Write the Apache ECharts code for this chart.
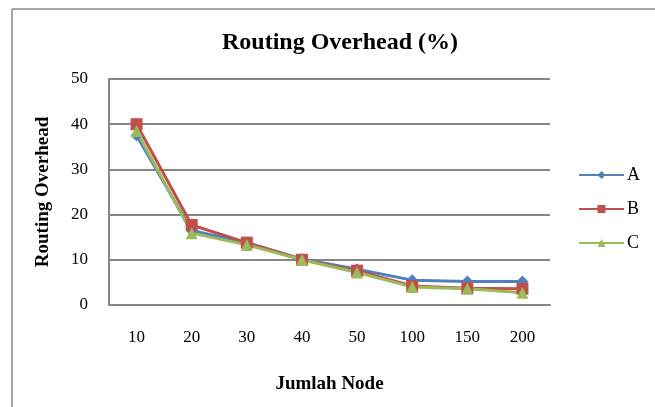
<!DOCTYPE html>
<html>
<head>
<meta charset="utf-8">
<script src="https://cdn.jsdelivr.net/npm/echarts@6/dist/echarts.min.js"></script>
<style>
html, body { margin: 0; padding: 0; background: #fff; }
#chart { width: 655px; height: 407px; }
</style>
</head>
<body>
<div id="chart"></div>
<script>
// data
var nodes = ['10', '20', '30', '40', '50', '100', '150', '200'];
var seriesA = [37.5, 16.5, 13.8, 10.2, 7.9, 5.5, 5.2, 5.2];
var seriesB = [40, 17.7, 13.8, 10, 7.6, 4.2, 3.7, 3.6];
var seriesC = [38.5, 15.9, 13.3, 10, 7.2, 4.0, 3.6, 2.7];
var yTicks = [0, 10, 20, 30, 40, 50];

var serif = '"Liberation Serif", "DejaVu Serif", serif';

function line(name, data, color, symbol, size) {
    return {
        name: name,
        type: 'line',
        data: data,
        symbol: symbol,
        symbolSize: size,
        showAllSymbol: true,
        lineStyle: { color: color, width: 3 },
        itemStyle: { color: color },
        animation: false
    };
}

var myChart = echarts.init(document.getElementById('chart'));
var option = {
    backgroundColor: '#fff',
    title: {
        text: 'Routing Overhead (%)',
        left: 335,
        textAlign: 'center',
        top: 26,
        textStyle: { fontFamily: serif, fontWeight: 'bold', fontSize: 24, color: '#000' }
    },
    legend: {
        orient: 'vertical',
        left: 573,
        top: 161,
        itemWidth: 45,
        itemHeight: 10,
        itemGap: 16,
        textStyle: { fontFamily: serif, fontSize: 18, color: '#000', padding: [0, 0, 0, -2] },
        data: ['A', 'B', 'C']
    },
    grid: { left: 109, top: 79, right: 105, bottom: 102 },
    xAxis: {
        type: 'category',
        data: nodes,
        boundaryGap: true,
        name: 'Jumlah Node',
        nameLocation: 'middle',
        nameGap: 70,
        nameTextStyle: { fontFamily: serif, fontWeight: 'bold', fontSize: 19, color: '#000' },
        axisLine: { lineStyle: { color: '#868686', width: 2 } },
        axisTick: { show: false },
        axisLabel: { fontFamily: serif, fontSize: 17, color: '#000', margin: 24 }
    },
    yAxis: {
        type: 'value',
        min: yTicks[0],
        max: yTicks[yTicks.length - 1],
        interval: 10,
        name: 'Routing Overhead',
        nameLocation: 'middle',
        nameGap: 56,
        nameTextStyle: { fontFamily: serif, fontWeight: 'bold', fontSize: 19, color: '#000' },
        axisLine: { show: true, lineStyle: { color: '#868686', width: 2 } },
        axisTick: { show: false },
        axisLabel: { fontFamily: serif, fontSize: 17, color: '#000', margin: 21 },
        splitLine: { lineStyle: { color: '#868686', width: 2 } }
    },
    graphic: [
        { type: 'line', shape: { x1: 12, y1: 9, x2: 655, y2: 9 }, style: { stroke: '#a6a6a6', lineWidth: 2 } },
        { type: 'line', shape: { x1: 12, y1: 9, x2: 12, y2: 407 }, style: { stroke: '#a6a6a6', lineWidth: 2 } }
    ],
    series: [
        line('A', seriesA, '#4F81BD', 'diamond', 12),
        line('B', seriesB, '#C0504D', 'rect', 12),
        line('C', seriesC, '#9BBB59', 'triangle', 12)
    ]
};
option && myChart.setOption(option);
</script>
</body>
</html>
